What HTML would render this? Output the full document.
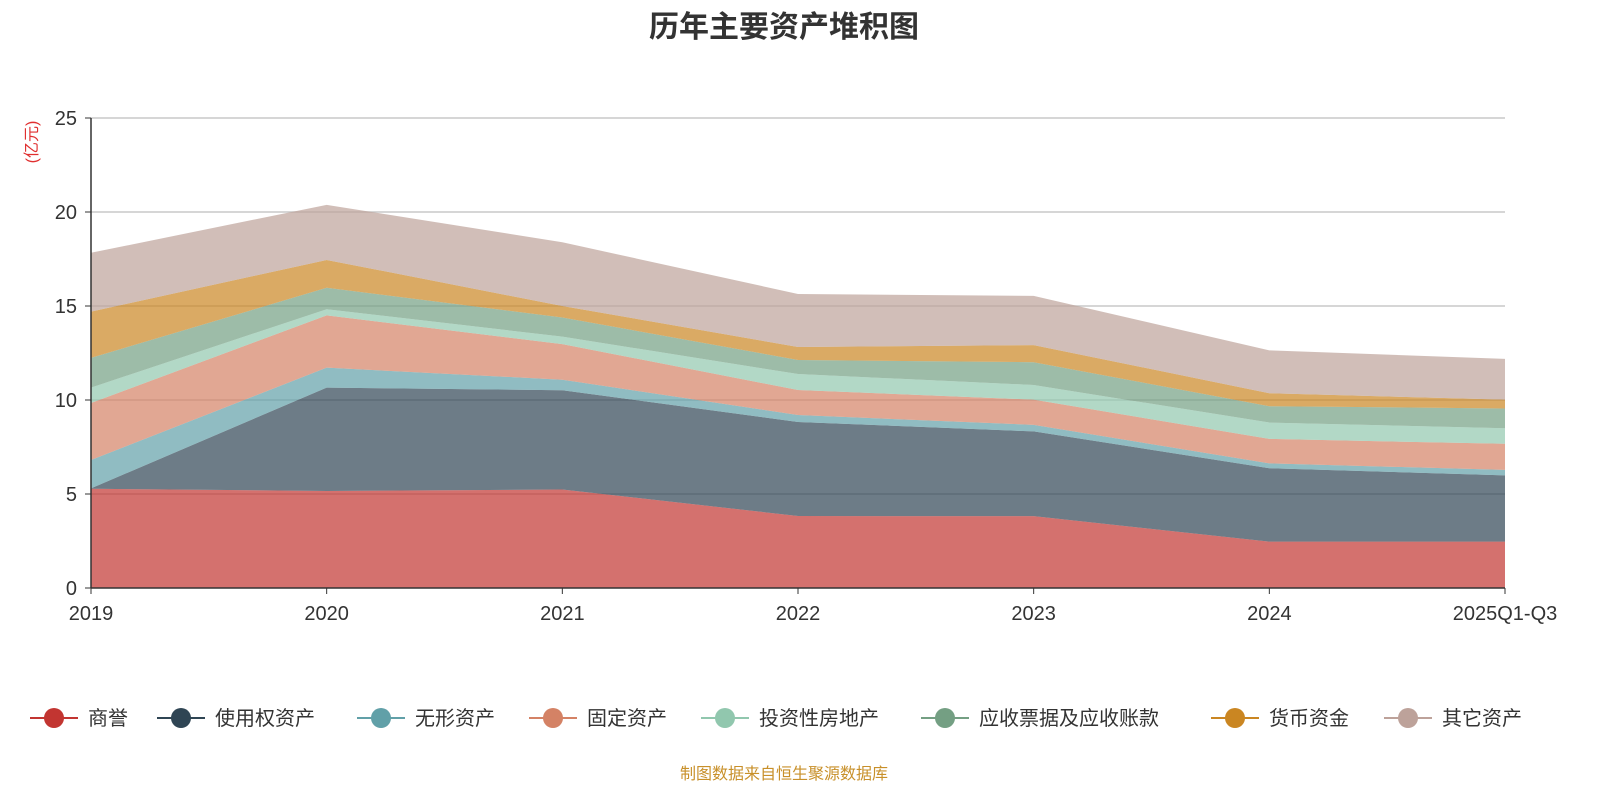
<!DOCTYPE html>
<html><head><meta charset="utf-8"><style>
body{margin:0;background:#fff;font-family:"Liberation Sans","Noto Sans CJK SC",sans-serif;}
svg text{font-family:"Liberation Sans","Noto Sans CJK SC",sans-serif;}
</style></head><body>
<svg id="c" width="1600" height="800" viewBox="0 0 1600 800">
<text x="784" y="37" text-anchor="middle" font-size="30" font-weight="bold" fill="#333">历年主要资产堆积图</text>
<text transform="translate(37,142) rotate(-90)" text-anchor="middle" font-size="16" fill="#e03030">(亿元)</text>
<g id="grid"></g><g id="areas"></g><g id="axes"></g><g id="legend"></g>
<text x="784" y="779" text-anchor="middle" font-size="16" fill="#c8902a">制图数据来自恒生聚源数据库</text>
</svg>
<script>
const categories=["2019","2020","2021","2022","2023","2024","2025Q1-Q3"];
const seriesNames=["商誉","使用权资产","无形资产","固定资产","投资性房地产","应收票据及应收账款","货币资金","其它资产"];
const goodwill=[5.28,5.16,5.24,3.83,3.82,2.47,2.47];
const rouAssets=[0.02,5.5,5.28,5.0,4.51,3.9,3.52];
const intangible=[1.51,1.06,0.56,0.37,0.35,0.26,0.29];
const fixedAssets=[3.03,2.78,1.89,1.33,1.34,1.30,1.39];
const investProperty=[0.82,0.33,0.40,0.85,0.78,0.87,0.83];
const receivables=[1.58,1.14,1.02,0.75,1.21,0.87,1.05];
const cash=[2.46,1.48,0.61,0.69,0.91,0.69,0.47];
const otherAssets=[3.13,2.93,3.39,2.82,2.62,2.28,2.17];
const yTicks=[0,5,10,15,20,25];
const colors=["#c23531","#2f4554","#61a0a8","#d48265","#91c7ae","#749f83","#ca8622","#bda29a"];
const series=[goodwill,rouAssets,intangible,fixedAssets,investProperty,receivables,cash,otherAssets];
const NS="http://www.w3.org/2000/svg";
const x0=91,x1=1505,y0=588,y1=118,yMax=25;
const xS=i=>x0+i*(x1-x0)/(categories.length-1);
const yS=v=>y0-v/yMax*(y0-y1);
function mk(t,a,p){const e=document.createElementNS(NS,t);for(const k in a)e.setAttribute(k,a[k]);p.appendChild(e);return e;}
const grid=document.getElementById('grid'),axes=document.getElementById('axes'),areas=document.getElementById('areas'),legend=document.getElementById('legend');
yTicks.forEach(t=>{
 if(t>0){const l=mk('line',{x1:x0,x2:x1,y1:yS(t),y2:yS(t),stroke:'#c8c8c8','stroke-width':1.5},grid);
 
 }
 const tk=mk('line',{x1:x0-6,x2:x0,y1:yS(t),y2:yS(t),stroke:'#333'},axes);
 
 
 const tx=mk('text',{x:x0-14,y:yS(t)+7,'text-anchor':'end','font-size':20,fill:'#333'},axes);tx.textContent=t;
 
 
});
let cum=categories.map(()=>0);
series.forEach((s,si)=>{
 const lower=cum.slice();cum=cum.map((c,i)=>c+s[i]);
 let d='M'+categories.map((_,i)=>xS(i)+','+yS(cum[i])).join('L');
 for(let i=categories.length-1;i>=0;i--)d+='L'+xS(i)+','+yS(lower[i]);
 const p=mk('path',{d:d+'Z',fill:colors[si],'fill-opacity':0.7},areas);
 
 
});
const ax=mk('line',{x1:x0,x2:x0,y1:y1,y2:y0,stroke:'#333','stroke-width':1.5},axes);


const bx=mk('line',{x1:x0,x2:x1,y1:y0,y2:y0,stroke:'#333','stroke-width':1.5},axes);


categories.forEach((c,i)=>{
 const tk=mk('line',{x1:xS(i),x2:xS(i),y1:y0,y2:y0+6,stroke:'#333'},axes);
 
 
 const t=mk('text',{x:xS(i),y:620,'text-anchor':'middle','font-size':20,fill:'#333'},axes);t.textContent=c;
 
 
});
const lx=[54,181,381,553,725,945,1235,1408];
seriesNames.forEach((n,i)=>{
 const g=mk('g',{},legend);
 
 
 mk('line',{x1:lx[i]-24,x2:lx[i]+24,y1:718,y2:718,stroke:colors[i],'stroke-width':2},g);
 mk('circle',{cx:lx[i],cy:718,r:10,fill:colors[i]},g);
 const t=mk('text',{x:lx[i]+34,y:725,'font-size':20,fill:'#333'},g);t.textContent=n;
});
</script>
</body></html>
